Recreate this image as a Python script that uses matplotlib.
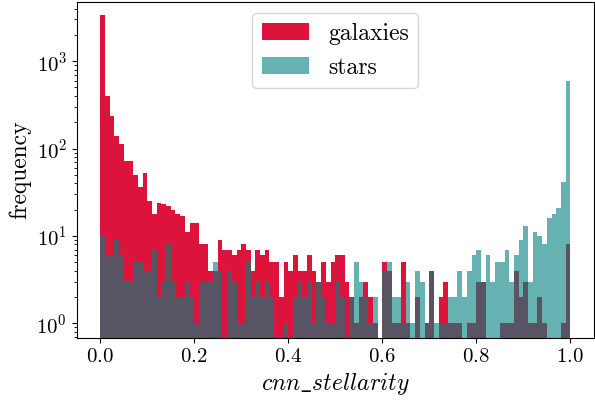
import numpy as np
import matplotlib
matplotlib.use("Agg")
import matplotlib.pyplot as plt

plt.rcParams["font.family"] = "serif"
plt.rcParams["font.serif"] = ["cmr10"]
plt.rcParams["mathtext.fontset"] = "cm"
plt.rcParams["axes.formatter.use_mathtext"] = True

# 100 bins over cnn_stellarity in [0, 1]
bin_edges = np.linspace(0, 1, 101)

galaxies = [3400, 400, 237, 140, 113, 72, 72, 50, 36, 52,
            25, 18, 24, 23, 22, 20, 18, 17, 11, 14,
            14, 8, 8, 4, 4, 9, 7, 7, 6, 7,
            8, 7, 4, 7, 6, 7, 5, 5, 2, 5,
            4, 6, 4, 4, 6, 4, 3, 5, 3, 5,
            6, 6, 3, 2, 1, 2, 3, 2, 1, 0,
            5, 4, 1, 1, 5, 1, 0, 2, 0, 1,
            4, 0, 2, 3, 1, 1, 1, 0, 1, 1,
            3, 3, 0, 0, 0, 1, 1, 1, 4, 2,
            3, 1, 1, 2, 1, 0, 0, 0, 1, 8]

stars = [10, 6, 6, 9, 6, 3, 3, 5, 5, 4,
         4, 7, 2, 3, 8, 3, 2, 2, 3, 2,
         1, 3, 3, 3, 5, 4, 0, 4, 3, 1,
         1, 5, 2, 3, 2, 3, 2, 0, 0, 1,
         0, 2, 3, 2, 3, 1, 3, 2, 1, 1,
         3, 2, 0, 2, 5, 3, 2, 1, 2, 0,
         4, 5, 2, 2, 1, 3, 1, 4, 3, 1,
         4, 1, 1, 1, 2, 2, 4, 2, 4, 6,
         7, 3, 6, 3, 5, 5, 7, 3, 6, 9,
         13, 3, 11, 10, 8, 16, 18, 21, 42, 590]

centers = 0.5 * (bin_edges[:-1] + bin_edges[1:])

fig = plt.figure(figsize=(5.95, 4.01), dpi=100)
ax = fig.add_subplot(111)
fig.subplots_adjust(left=0.129, right=0.998, bottom=0.157, top=0.996)

ax.hist(centers, bins=bin_edges, weights=galaxies, color="crimson", label="galaxies")
ax.hist(centers, bins=bin_edges, weights=stars, color="teal", alpha=0.6, label="stars")

ax.set_yscale("log")
ax.set_ylim(0.68, 4800)
ax.set_xticks([0.0, 0.2, 0.4, 0.6, 0.8, 1.0])
ax.tick_params(labelsize=15)

ax.set_xlabel(r"$cnn\_stellarity$", fontsize=17)
ax.set_ylabel("frequency", fontsize=17)
ax.legend(loc="upper center", fontsize=17)

plt.savefig("out.png", dpi=100)
